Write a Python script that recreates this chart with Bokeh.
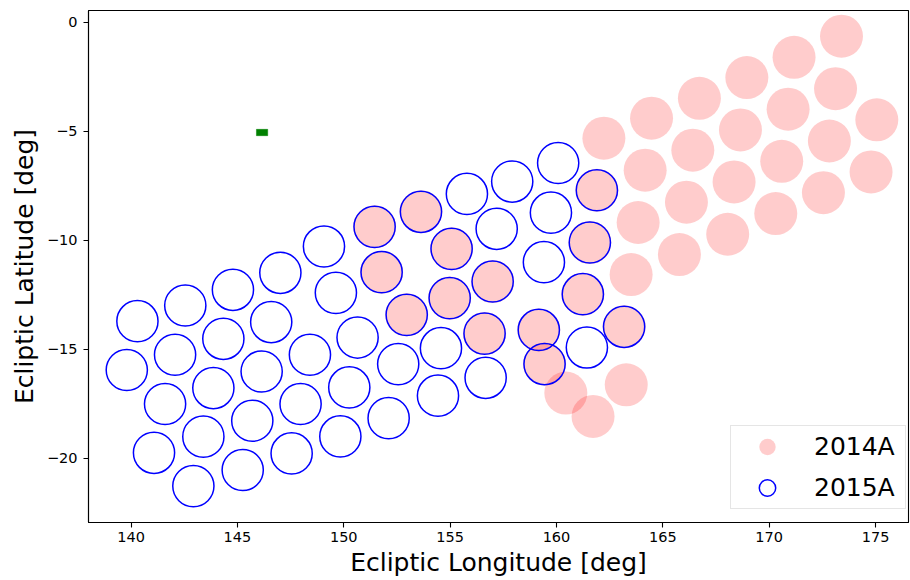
from bokeh.plotting import figure
from bokeh.models import (FixedTicker, CustomJSTickFormatter, Range1d,
                          Legend, LegendItem)
from bokeh.embed import file_html
from bokeh.resources import INLINE

# Field centres of the 2014A campaign (ecliptic longitude / latitude, deg)
lon_2014a = [173.40, 171.17, 168.95, 166.72, 164.47, 162.23,
             173.12, 175.06, 170.89, 168.65, 166.41, 164.17,
             172.83, 174.79, 170.59, 168.35, 166.11, 163.84,
             172.55, 170.31, 168.05, 165.78, 163.51,
             151.45, 153.63, 155.07, 151.78, 157.00, 154.98, 152.96, 156.62,
             161.90, 161.57, 161.24, 159.17, 163.18, 159.44,
             160.44, 161.72, 163.28]
lat_2014a = [-0.63, -1.60, -2.53, -3.48, -4.39, -5.31,
             -3.04, -4.47, -3.98, -4.93, -5.86, -6.78,
             -5.44, -6.86, -6.37, -7.32, -8.25, -9.18,
             -7.81, -8.77, -9.72, -10.65, -11.57,
             -9.38, -8.69, -10.39, -11.46, -11.89, -12.65, -13.42, -14.28,
             -7.70, -10.10, -12.47, -14.11, -13.97, -15.68,
             -17.01, -18.08, -16.63]

# Field centres of the 2015A campaign
lon_2015a = [140.30, 142.55, 144.79, 147.02, 149.07, 151.45, 153.63, 155.79,
             157.92, 160.08, 161.90,
             139.80, 142.07, 144.34, 146.59, 149.63, 151.78, 155.07, 157.19,
             159.74, 159.41, 161.57,
             141.60, 143.87, 146.14, 148.41, 150.65, 152.96, 154.98, 157.00,
             161.24,
             141.08, 143.40, 145.70, 147.97, 150.26, 152.56, 154.57, 156.62,
             159.17, 163.18,
             142.93, 145.25, 147.55, 149.84, 152.11, 154.43, 156.67, 159.44,
             161.43]
lat_2015a = [-13.71, -12.99, -12.27, -11.49, -10.28, -9.38, -8.69, -7.87,
             -7.30, -6.45, -7.70,
             -15.95, -15.25, -14.52, -13.75, -12.41, -11.46, -10.39, -9.47,
             -8.73, -11.00, -10.10,
             -17.51, -16.78, -16.02, -15.25, -14.46, -13.42, -12.65, -11.89,
             -12.47,
             -19.75, -19.01, -18.28, -17.51, -16.75, -15.68, -14.95, -14.28,
             -14.11, -13.97,
             -21.28, -20.54, -19.78, -19.00, -18.16, -17.13, -16.31, -15.68,
             -14.92]

# Small target patch
lon_target = [146.16]
lat_target = [-5.05]

xticks = [140, 145, 150, 155, 160, 165, 170, 175]
yticks = [0, -5, -10, -15, -20]

FONT = "DejaVu Sans"

p = figure(frame_width=820, frame_height=512,
           x_range=Range1d(138.0, 176.55), y_range=Range1d(-22.95, 0.55),
           output_backend="svg", toolbar_location=None,
           min_border_left=88, min_border_right=2,
           min_border_top=10, min_border_bottom=56,
           background_fill_color="white", border_fill_color="white")

r14 = p.scatter(lon_2014a, lat_2014a, size=43, marker="circle",
                fill_color="red", fill_alpha=0.2, line_color=None)
r15 = p.scatter(lon_2015a, lat_2015a, size=41.2, marker="circle",
                fill_color=None, line_color="blue", line_width=1.5)
p.rect(lon_target, lat_target, width=0.53, height=0.29,
       fill_color="green", line_color="green", line_width=0.5)

p.xgrid.visible = False
p.ygrid.visible = False
p.outline_line_color = "black"
p.outline_line_width = 1.1

p.xaxis.ticker = FixedTicker(ticks=xticks)
p.yaxis.ticker = FixedTicker(ticks=yticks)
p.yaxis.formatter = CustomJSTickFormatter(
    code="return tick < 0 ? '\u2212' + Math.abs(tick) : String(tick);")

for ax in (p.xaxis[0], p.yaxis[0]):
    ax.axis_line_color = "black"
    ax.axis_line_width = 1.1
    ax.major_tick_line_color = "black"
    ax.major_tick_line_width = 1.1
    ax.major_tick_out = 5
    ax.major_tick_in = 0
    ax.minor_tick_line_color = None
    ax.major_label_text_font = FONT
    ax.major_label_text_font_size = "14.5px"
    ax.major_label_text_color = "black"
    ax.axis_label_text_font = FONT
    ax.axis_label_text_font_size = "25px"
    ax.axis_label_text_font_style = "normal"
    ax.axis_label_text_color = "black"

p.xaxis.axis_label = "Ecliptic Longitude [deg]"
p.yaxis.axis_label = "Ecliptic Latitude [deg]"
p.xaxis.major_label_standoff = 4
p.xaxis.axis_label_standoff = 3
p.yaxis.major_label_standoff = 6
p.yaxis.axis_label_standoff = 5

legend = Legend(items=[LegendItem(label="2014A", renderers=[r14]),
                       LegendItem(label="2015A", renderers=[r15])],
                location=(642, 13), margin=0, padding=0, spacing=0,
                glyph_width=72, glyph_height=41, label_standoff=11,
                label_width=91,
                label_text_font=FONT, label_text_font_size="25px",
                label_text_color="black",
                border_line_color="#cccccc", border_line_width=1.1,
                background_fill_color="white", background_fill_alpha=0.8)
p.add_layout(legend)

open("out.html", "w").write(file_html(p, INLINE))
